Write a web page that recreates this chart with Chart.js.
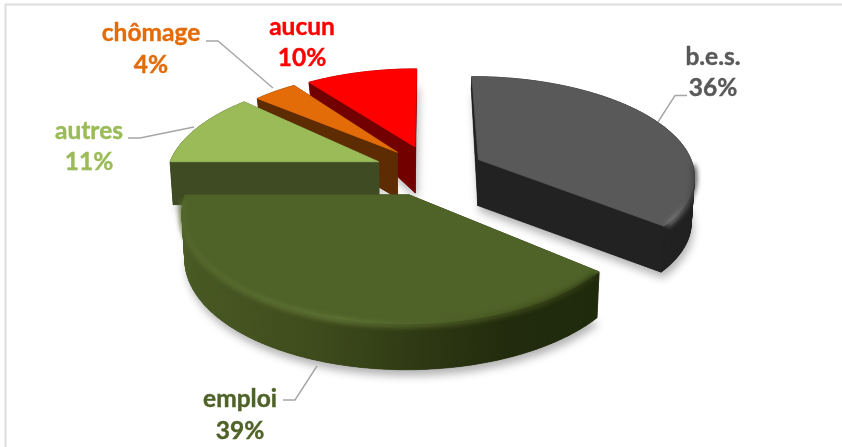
<!DOCTYPE html>
<html>
<head>
<meta charset="utf-8">
<script src="https://cdn.jsdelivr.net/npm/chart.js@4"></script>
<style>
html,body{margin:0;padding:0;background:#fff;overflow:hidden}
canvas{display:block;filter:blur(0.45px)}
</style>
</head>
<body>
<canvas id="c" width="842" height="447"></canvas>
<script>
const categories = ['b.e.s.', 'emploi', 'autres', 'chômage', 'aucun'];
const shares = [36, 39, 11, 4, 10];
const topColours = ['#595959', '#4F6228', '#9BBB59', '#E36C09', '#FF0000'];
const sideColours = ['#222222', '#2E3813', '#3F4B23', '#5E2C03', '#730000'];
const textColours = ['#595959', '#4F6228', '#9BBB59', '#E36C09', '#FF0000'];

// Perspective camera for the tilted, exploded pie
const cam = { vx: 424, yh: -500, h: 695, d: 1431, cx: 4, cz: -53, worldR: 224 };
const paintOrder = [4, 3, 2, 0, 1];
const rimX = [224, 224, 219, 215, 218];
const rimZ = [217, 224, 219, 215, 211];
const nudgeX = [2.5, 0, 1, 5.5, 3.5];
const arcTrim = [0, 0, -0.06, 0, 0];

// Label placement: [text centre x, first line y, second line y]
const labelPos = [[713, 57, 88], [240, 399, 431], [89, 131, 162], [151, 33, 65], [302, 27, 58]];
const leaders = [
  [[687, 95.5], [675, 95.5], [658, 122]],
  [[283, 400], [295, 400], [317, 366]],
  [[128, 138], [140, 138], [194, 127]],
  [[206, 41], [218, 41], [273, 88]],
  null
];

function project(X, Z) {
  const w = 1 - Z / cam.d;
  return [cam.vx + X / w, cam.yh + cam.h / w];
}
function depthAt(y) {
  return Math.max(13, Math.min(46, 13 + (y - 90) * 0.6));
}
function sliceOutline(el, i) {
  const k = cam.worldR / el.outerRadius;
  const mid = (el.startAngle + el.endAngle) / 2;
  const off = (el.options.offset || 0) * k;
  const ax = cam.cx + off * Math.cos(mid);
  const az = cam.cz + off * Math.sin(mid);
  const shift = p => { p[0] += nudgeX[i]; return p; };
  const pts = [shift(project(ax, az))];
  const arc = [];
  const end = el.endAngle - arcTrim[i];
  const n = Math.max(8, Math.round((end - el.startAngle) * 90));
  for (let j = 0; j <= n; j++) {
    const a = el.startAngle + (end - el.startAngle) * j / n;
    const p = shift(project(ax + rimX[i] * Math.cos(a), az + rimZ[i] * Math.sin(a)));
    p.angle = a;
    pts.push(p);
    arc.push(p);
  }
  return { pts, arc };
}
function poly(ctx, pts) {
  ctx.beginPath();
  pts.forEach((p, i) => i ? ctx.lineTo(p[0], p[1]) : ctx.moveTo(p[0], p[1]));
  ctx.closePath();
}
function wallPaint(ctx, i) {
  if (i === 1) {
    const g = ctx.createLinearGradient(185, 0, 597, 0);
    g.addColorStop(0, '#4A5B25');
    g.addColorStop(0.33, '#3E4B1C');
    g.addColorStop(0.58, '#2E3813');
    g.addColorStop(0.78, '#222B0D');
    g.addColorStop(1, '#1F290C');
    return g;
  }
  return sideColours[i];
}
function drawSlice(ctx, el, i) {
  const { pts, arc } = sliceOutline(el, i);
  const low = pts.map(p => {
    const d = depthAt(p[1]);
    return [p[0] + (cam.vx - p[0]) * 0.012, p[1] + (i === 2 ? d - 3 : d)];
  });

  // soft ground shadow
  ctx.save();
  ctx.shadowColor = 'rgba(0,0,0,0.30)';
  ctx.shadowBlur = 9;
  ctx.shadowOffsetX = 2;
  ctx.shadowOffsetY = 6;
  ctx.fillStyle = sideColours[i];
  poly(ctx, low);
  ctx.fill();
  ctx.restore();

  // side walls, far ones first
  const quads = [];
  for (let j = 0; j < pts.length; j++) {
    const m = (j + 1) % pts.length;
    quads.push({ q: [pts[j], pts[m], low[m], low[j]], y: pts[j][1] + pts[m][1], radial: j === 0 || m === 0 });
  }
  quads.sort((a, b) => a.y - b.y);
  const paint = wallPaint(ctx, i);
  quads.forEach(o => {
    const c = o.radial ? sideColours[i] : paint;
    ctx.fillStyle = c;
    ctx.strokeStyle = c;
    ctx.lineWidth = 0.6;
    poly(ctx, o.q);
    ctx.fill();
    ctx.stroke();
  });

  // top face
  ctx.fillStyle = el.options.backgroundColor;
  ctx.strokeStyle = el.options.backgroundColor;
  ctx.lineWidth = 0.8;
  ctx.lineJoin = 'round';
  poly(ctx, pts);
  ctx.fill();
  ctx.stroke();

  // rounded lip on the near rim of the two big slices
  if (i === 0 || i === 1) {
    const cut = arc.filter(p => Math.sin(p.angle) > 0.02).slice(2, -2);
    ctx.save();
    ctx.filter = 'blur(2.5px)';
    const g = ctx.createLinearGradient(185, 0, 700, 0);
    if (i === 1) {
      g.addColorStop(0, '#566A2D');
      g.addColorStop(0.3, '#627737');
      g.addColorStop(0.5, '#4F6128');
      g.addColorStop(0.7, '#3A4719');
      g.addColorStop(0.8, '#2A3512');
      g.addColorStop(1, '#2A3512');
    } else {
      g.addColorStop(0, '#595959');
      g.addColorStop(0.88, '#595959');
      g.addColorStop(0.95, '#7A7A7A');
      g.addColorStop(1, '#333');
    }
    ctx.strokeStyle = g;
    ctx.lineWidth = 5;
    ctx.beginPath();
    cut.forEach((p, j) => j ? ctx.lineTo(p[0], p[1] + 1) : ctx.moveTo(p[0], p[1] + 1));
    ctx.stroke();
    ctx.restore();
  }
}

const pie3d = {
  id: 'pie3d',
  beforeDraw(chart) {
    const ctx = chart.ctx;
    ctx.save();
    ctx.fillStyle = '#fff';
    ctx.fillRect(0, 0, 842, 447);
    ctx.strokeStyle = '#DDDDDD';
    ctx.lineWidth = 2;
    ctx.beginPath();
    ctx.moveTo(5.5, 447);
    ctx.lineTo(5.5, 4.5);
    ctx.lineTo(842, 4.5);
    ctx.stroke();
    ctx.restore();
  },
  beforeDatasetDraw(chart) {
    const ctx = chart.ctx;
    const els = chart.getDatasetMeta(0).data;
    ctx.save();
    paintOrder.forEach(i => drawSlice(ctx, els[i], i));
    ctx.restore();
    return false;
  },
  afterDraw(chart) {
    const ctx = chart.ctx;
    const total = shares.reduce((a, b) => a + b, 0);
    ctx.save();
    ctx.strokeStyle = '#A6A6A6';
    ctx.lineWidth = 1.4;
    leaders.forEach(l => {
      if (!l) return;
      ctx.beginPath();
      l.forEach((p, j) => j ? ctx.lineTo(p[0], p[1]) : ctx.moveTo(p[0], p[1]));
      ctx.stroke();
    });
    ctx.textAlign = 'center';
    ctx.textBaseline = 'middle';
    ctx.font = 'bold 24.5px Lato';
    ctx.lineWidth = 0.4;
    categories.forEach((name, i) => {
      const pct = Math.round(shares[i] / total * 100) + '%';
      ctx.fillStyle = textColours[i];
      ctx.strokeStyle = textColours[i];
      ctx.fillText(name, labelPos[i][0], labelPos[i][1]);
      ctx.strokeText(name, labelPos[i][0], labelPos[i][1]);
      ctx.fillText(pct, labelPos[i][0], labelPos[i][2]);
      ctx.strokeText(pct, labelPos[i][0], labelPos[i][2]);
    });
    ctx.restore();
  }
};

new Chart(document.getElementById('c'), {
  type: 'pie',
  data: {
    labels: categories,
    datasets: [{
      data: shares,
      backgroundColor: topColours,
      borderWidth: 0,
      offset: 50
    }]
  },
  options: {
    responsive: false,
    animation: false,
    radius: 200,
    layout: { padding: 0 },
    plugins: { legend: { display: false }, tooltip: { enabled: false } }
  },
  plugins: [pie3d]
});
</script>
</body>
</html>
